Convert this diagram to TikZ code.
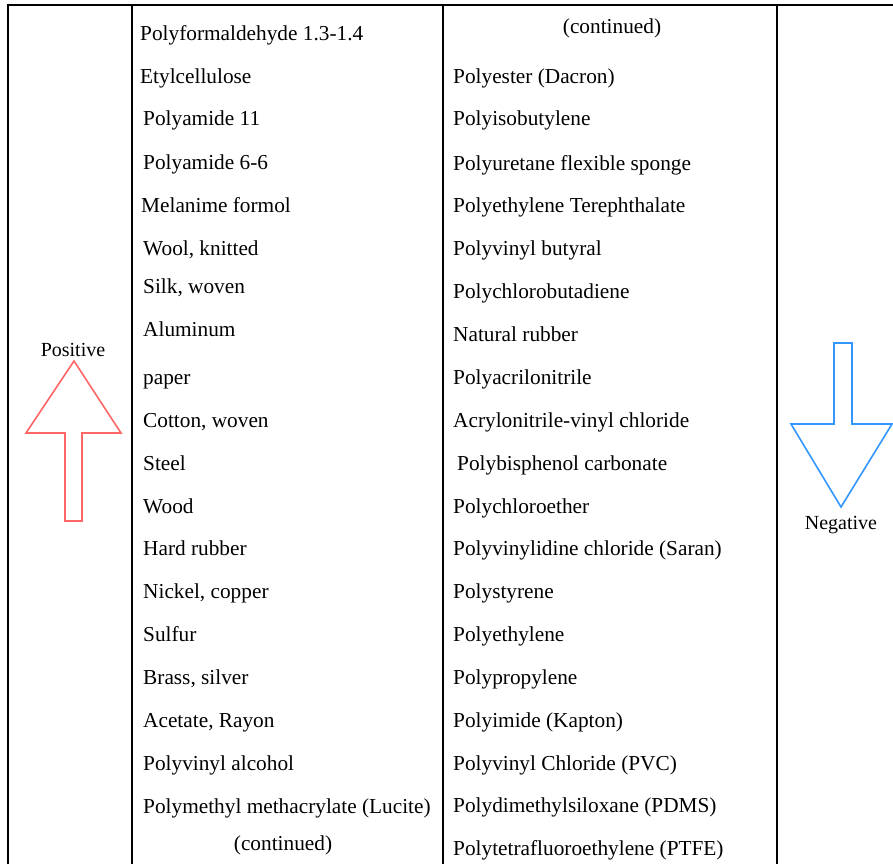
\documentclass[tikz,border=0pt]{standalone}
\usepackage{fontspec}
\setmainfont{Liberation Serif}
\definecolor{posred}{RGB}{255,102,102}
\definecolor{negblue}{RGB}{51,150,255}
\begin{document}
\begin{tikzpicture}[x=1pt,y=-1pt,
  grid/.style={line width=2pt,black},
  item/.style={anchor=base west,inner sep=0pt,font=\fontsize{21.3}{25}\selectfont},
  cont/.style={anchor=base,inner sep=0pt,font=\fontsize{21.3}{25}\selectfont},
  label/.style={anchor=base,inner sep=0pt,font=\fontsize{20}{24}\selectfont},
  arr/.style={line width=1.6pt,line join=miter}]
\useasboundingbox (0,0) rectangle (893,864);

% table rules
\draw[grid] (8,864) -- (8,5) -- (893,5);
\draw[grid] (132,5) -- (132,864);
\draw[grid] (443,5) -- (443,864);
\draw[grid] (777,5) -- (777,864);

% positive (upper) end of the series
\node[item] (p1)  at (140,41)  {Polyformaldehyde 1.3-1.4};
\node[item] (p2)  at (140,84)  {Etylcellulose};
\node[item] (p3)  at (143,125) {Polyamide 11};
\node[item] (p4)  at (143,169) {Polyamide 6-6};
\node[item] (p5)  at (141,212) {Melanime formol};
\node[item] (p6)  at (143,255) {Wool, knitted};
\node[item] (p7)  at (143,293) {Silk, woven};
\node[item] (p8)  at (143,336) {Aluminum};
\node[item] (p9)  at (143,384) {paper};
\node[item] (p10) at (143,427) {Cotton, woven};
\node[item] (p11) at (143,470) {Steel};
\node[item] (p12) at (143,513) {Wood};
\node[item] (p13) at (143,555) {Hard rubber};
\node[item] (p14) at (143,598) {Nickel, copper};
\node[item] (p15) at (143,641) {Sulfur};
\node[item] (p16) at (143,684) {Brass, silver};
\node[item] (p17) at (143,727) {Acetate, Rayon};
\node[item] (p18) at (143,770) {Polyvinyl alcohol};
\node[item] (p19) at (143,813) {Polymethyl methacrylate (Lucite)};
\node[cont]  (pc)  at (283,850) {(continued)};

% negative (lower) end of the series
\node[cont]  (nc)  at (612,34)  {(continued)};
\node[item] (n1)  at (453,84)  {Polyester (Dacron)};
\node[item] (n2)  at (453,125) {Polyisobutylene};
\node[item] (n3)  at (453,170) {Polyuretane flexible sponge};
\node[item] (n4)  at (453,212) {Polyethylene Terephthalate};
\node[item] (n5)  at (453,255) {Polyvinyl butyral};
\node[item] (n6)  at (453,298) {Polychlorobutadiene};
\node[item] (n7)  at (453,341) {Natural rubber};
\node[item] (n8)  at (453,384) {Polyacrilonitrile};
\node[item] (n9)  at (453,427) {Acrylonitrile-vinyl chloride};
\node[item] (n10) at (457,470) {Polybisphenol carbonate};
\node[item] (n11) at (453,513) {Polychloroether};
\node[item] (n12) at (453,555) {Polyvinylidine chloride (Saran)};
\node[item] (n13) at (453,598) {Polystyrene};
\node[item] (n14) at (453,641) {Polyethylene};
\node[item] (n15) at (453,684) {Polypropylene};
\node[item] (n16) at (453,727) {Polyimide (Kapton)};
\node[item] (n17) at (453,770) {Polyvinyl Chloride (PVC)};
\node[item] (n18) at (453,812) {Polydimethylsiloxane (PDMS)};
\node[item] (n19) at (453,855) {Polytetrafluoroethylene (PTFE)};

% polarity arrows
\node[label] (pos) at (73,356) {Positive};
\draw[arr,posred] (74,361) -- (121,433) -- (82,433) -- (82,521)
  -- (65,521) -- (65,433) -- (26,433) -- cycle;

\node[label] (neg) at (841,529) {Negative};
\draw[arr,negblue] (841,507) -- (892,424) -- (852,424) -- (852,343)
  -- (834,343) -- (834,424) -- (791,424) -- cycle;
\end{tikzpicture}
\end{document}
